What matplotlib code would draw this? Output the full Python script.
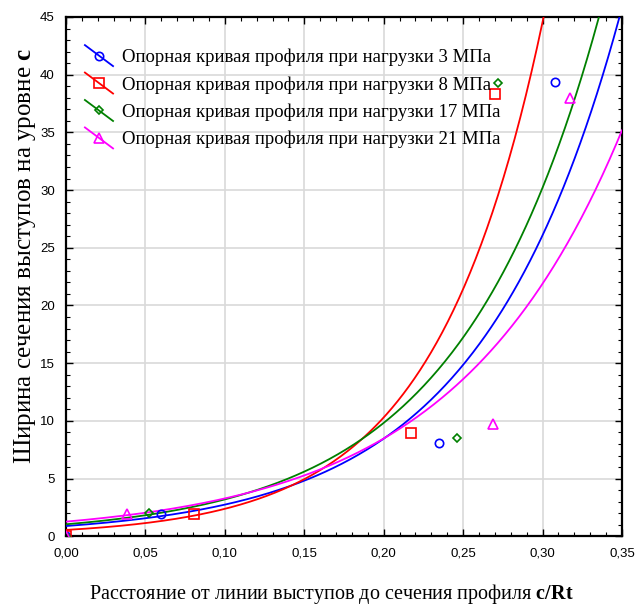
import numpy as np
import matplotlib
matplotlib.use("Agg")
import matplotlib.pyplot as plt
from matplotlib.lines import Line2D
from matplotlib.legend_handler import HandlerBase
from matplotlib.ticker import MultipleLocator, FuncFormatter

plt.rcParams['mathtext.fontset'] = 'custom'
plt.rcParams['mathtext.rm'] = 'Liberation Serif'
plt.rcParams['mathtext.bf'] = 'Liberation Serif:bold'

# measured points (c/Rt, width)
x_3 = [0.0, 0.0598, 0.235, 0.308]
y_3 = [0.0, 1.93, 8.07, 39.4]
x_8 = [0.0, 0.0806, 0.217, 0.270]
y_8 = [0.0, 1.93, 8.99, 38.3]
x_17 = [0.0, 0.0525, 0.246, 0.272]
y_17 = [0.0, 2.0, 8.5, 39.3]
x_21 = [0.0, 0.0386, 0.269, 0.317]
y_21 = [0.0, 1.9, 9.74, 38.0]

# exponential fit y = a*exp(b*x), coefficients
fit_a = [0.89, 0.55, 1.04, 1.27]
fit_b = [11.26, 14.65, 11.23, 9.49]

labels = ['Опорная кривая профиля при нагрузки 3 МПа',
          'Опорная кривая профиля при нагрузки 8 МПа',
          'Опорная кривая профиля при нагрузки 17 МПа',
          'Опорная кривая профиля при нагрузки 21 МПа']
colors = ['#0000ff', '#ff0000', '#008000', '#ff00ff']
markers = ['o', 's', 'D', '^']
msizes = [6, 6.5, 4.5, 6.5]


class DiagHandler(HandlerBase):
    # Statistica-like legend key: slanted line with marker in the middle
    def create_artists(self, legend, orig_handle, xdescent, ydescent,
                       width, height, fontsize, trans):
        x0, y0 = -xdescent, -ydescent
        c = orig_handle.get_color()
        ln = Line2D([x0, x0 + width], [y0 + height * 1.3, y0 - height * 0.3],
                    color=c, lw=1.3, transform=trans)
        mk = Line2D([x0 + width * 0.5], [y0 + height * 0.5], ls='none',
                    marker=orig_handle.get_marker(), ms=orig_handle.get_markersize(),
                    mfc='none', mec=c, mew=1.2, transform=trans)
        return [ln, mk]


fig = plt.figure(figsize=(6.39, 6.07), dpi=100)
ax = fig.add_axes([0.1033, 0.1165, 0.8701, 0.8555])

xs = [x_3, x_8, x_17, x_21]
ys = [y_3, y_8, y_17, y_21]
xx = np.linspace(0, 0.35, 400)
handles = []
for i in range(4):
    ax.plot(xx, fit_a[i] * np.exp(fit_b[i] * xx), color=colors[i], lw=1.3, zorder=3)
    ax.plot(xs[i], ys[i], ls='none', marker=markers[i], ms=msizes[i],
            mfc='none', mec=colors[i], mew=1.2, zorder=4)
    handles.append(Line2D([], [], color=colors[i], marker=markers[i], ms=msizes[i]))

ax.set_xlim(0, 0.35)
ax.set_ylim(0, 45)
ax.xaxis.set_major_locator(MultipleLocator(0.05))
ax.xaxis.set_minor_locator(MultipleLocator(0.01))
ax.yaxis.set_major_locator(MultipleLocator(5))
ax.yaxis.set_minor_locator(MultipleLocator(1))
ax.xaxis.set_major_formatter(FuncFormatter(lambda v, p: f"{v:.2f}".replace('.', ',')))
ax.yaxis.set_major_formatter(FuncFormatter(lambda v, p: f"{v:.0f}"))

ax.grid(True, which='major', color='#d9d9d9', lw=1.2, zorder=0)
ax.set_axisbelow(True)
ax.tick_params(which='both', direction='in', top=True, right=True, color='black')
ax.tick_params(which='major', length=5, width=1, labelsize=9.5, pad=8)
ax.tick_params(which='minor', length=3, width=0.8)
for lab in ax.get_xticklabels() + ax.get_yticklabels():
    lab.set_fontfamily('Liberation Sans')
for s in ax.spines.values():
    s.set_linewidth(1.6)

ax.set_xlabel('Расстояние от линии выступов до сечения профиля $\\mathbf{c/Rt}$',
              family='Liberation Serif', fontsize=14.5)
ax.xaxis.set_label_coords(0.4766, -0.112)
ax.xaxis.label.set_va('center')
ax.set_ylabel('Ширина сечения выступов на уровне $\\mathbf{c}$',
              family='Liberation Serif', fontsize=18)
ax.yaxis.set_label_coords(-0.0737, 0.539)
ax.yaxis.label.set_va('center')

leg = ax.legend(handles, labels, handler_map={Line2D: DiagHandler()},
                loc='upper left', bbox_to_anchor=(0.034, 0.939), frameon=False,
                borderaxespad=0, borderpad=0, handlelength=1.5, handletextpad=0.46,
                labelspacing=0.53, prop={'family': 'Liberation Serif', 'size': 13.5})

fig.savefig('out.png', dpi=100)
